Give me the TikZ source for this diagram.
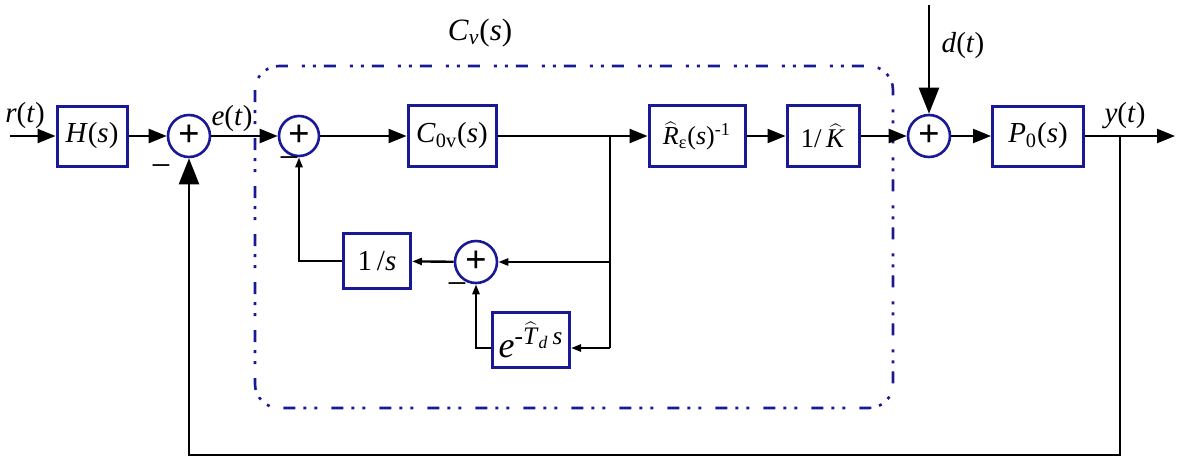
\documentclass[tikz,border=0pt]{standalone}
\usepackage{fontspec}
\setmainfont{Liberation Serif}
\usetikzlibrary{arrows.meta,calc}
\definecolor{bblue}{RGB}{25,25,150}
\newcommand{\vi}[1]{\textit{#1}}
\newcommand{\wh}[1]{$\widehat{\mbox{\vi{#1}}}$}
\begin{document}
\begin{tikzpicture}[x=0.5pt,y=-0.5pt,
 blk/.style={draw=bblue,line width=1.5pt,inner sep=0pt,font=\fontsize{14.5}{16}\selectfont},
 sumn/.style={circle,draw=bblue,line width=1.3pt,minimum size=21pt,inner sep=0pt,font=\fontsize{19}{19}\selectfont\bfseries},
 ln/.style={line width=1.2pt},
 arr/.style={ln,-{Triangle[length=9pt,width=7pt]}},
 sarr/.style={ln,-{Triangle[length=5pt,width=3.5pt]}},
 barr/.style={ln,-{Triangle[length=13pt,width=10pt]}},
 lbl/.style={font=\fontsize{14.5}{16}\selectfont},
 minus/.style={font=\fontsize{18}{18}\selectfont,inner sep=0pt}
]
\useasboundingbox (0,0) rectangle (1185,462);
% dash-dot-dot region
\draw[bblue,line width=1.3pt,rounded corners=12pt,dash pattern=on 6pt off 4pt on 1.5pt off 4pt on 1.5pt off 7pt] (255,66) rectangle (893,408);
\node[lbl,font=\fontsize{15.5}{16}\selectfont] (cv) at (480,33) {\vi{C}\textsubscript{\vi{v}}(\vi{s})};

% blocks
\node[blk,minimum width=35pt,minimum height=30pt] (H) at (92,136) {\vi{H}(\vi{s})};
\node[sumn] (s1) at (189,136) {+};
\node[sumn,minimum size=20pt] (s2) at (299,136) {+};
\node[blk,minimum width=44pt,minimum height=30.5pt] (C) at (452,136) {\vi{C}\textsubscript{0v}(\vi{s})};
\node[blk,minimum width=48pt,minimum height=30.5pt,font=\fontsize{13}{15}\selectfont] (R) at (697,136) {\wh{R}\textsubscript{ε}(\vi{s})\textsuperscript{-1}};
\node[blk,minimum width=36pt,minimum height=30.5pt,font=\fontsize{13.5}{15}\selectfont] (K) at (823,136) {1/\,\wh{K}};
\node[sumn] (s3) at (929,136) {+};
\node[blk,minimum width=45.5pt,minimum height=30pt] (P) at (1038,136) {\vi{P}\textsubscript{0}(\vi{s})};
\node[sumn] (s4) at (476,262) {+};
\node[blk,minimum width=33.5pt,minimum height=27.5pt] (I) at (377,261) {1\,/\vi{s}};
\node[blk,minimum width=38.5pt,minimum height=27.5pt,font=\fontsize{18}{18}\selectfont] (E) at (531,340) {\vi{e}\textsuperscript{-\wh{T}\textsubscript{\vi{d}}\,\vi{s}}};

% labels
\node[lbl] (rl) at (25,116) {\vi{r}(\vi{t})};
\node[lbl] (el) at (232,119) {\vi{e}(\vi{t})};
\node[lbl] (dl) at (963,46) {\vi{d}(\vi{t})};
\node[lbl] (yl) at (1125,116) {\vi{y}(\vi{t})};
\node[minus] (m1) at (161,171) {−};
\node[minus] (m2) at (289,163) {−};
\node[minus] (m4) at (457,289) {−};

% coordinates
\coordinate (rin) at (10,136);
\coordinate (b1) at (610,136);
\coordinate (b3) at (610,348);
\coordinate (b4) at (610,262);
\coordinate (dtop) at (929,5);
\coordinate (b2) at (1120,136);
\coordinate (yout) at (1175,136);
\coordinate (fb1) at (1120,455);
\coordinate (fb2) at (189,455);

% connectors
\draw[arr] (rin) -- (H);
\draw[arr] (H) -- (s1);
\draw[arr] (s1) -- (s2);
\draw[arr] (s2) -- (C);
\draw[arr] (C) -- (R);
\draw[arr] (R) -- (K);
\draw[arr] (K) -- (s3);
\draw[barr] (dtop) -- (s3);
\draw[arr] (s3) -- (P);
\draw[arr] (P) -- (yout);
\draw[barr] (b2) -- (fb1) -- (fb2) -- (s1);
\draw[ln] (b1) -- (b3);
\draw[sarr] (b4) -- (s4);
\draw[sarr] (b3) -- (b3 -| E.east);
\draw[sarr] (b3 -| E.west) -| (s4.south);
\draw[sarr] (s4) -- (I);
\draw[sarr] (I.west) -| (s2.south);
\end{tikzpicture}
\end{document}
